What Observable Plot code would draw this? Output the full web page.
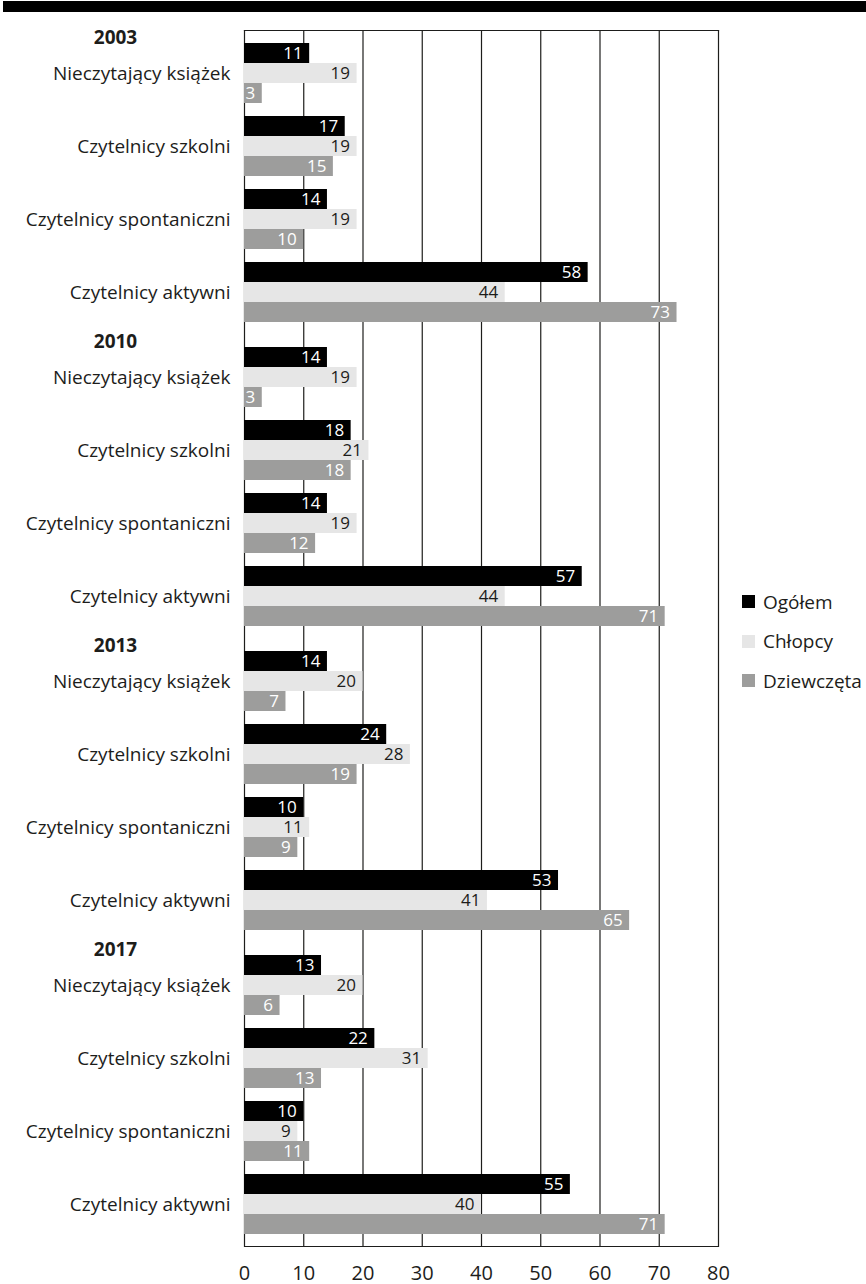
<!DOCTYPE html>
<html lang="pl">
<head>
<meta charset="utf-8">
<script src="https://cdn.jsdelivr.net/npm/d3@7"></script>
<script src="https://cdn.jsdelivr.net/npm/@observablehq/plot@0.6"></script>
<style>
  html, body { margin: 0; padding: 0; background: #fff; }
  body { width: 866px; height: 1284px; position: relative; overflow: hidden; font-family: "Open Sans", sans-serif; color: #1d1d1b; }
  #band { position: absolute; left: 3px; top: 1px; width: 863px; height: 11px; background: #000; }
  #chart { position: absolute; left: 0; top: 0; }
  #legend { position: absolute; left: 742px; top: 588px; font-size: 19px; }
  #legend .item { display: flex; align-items: center; height: 27px; margin-bottom: 12.5px; white-space: nowrap; }
  #legend .sw { width: 13px; height: 13px; margin-right: 8px; flex: none; }
</style>
</head>
<body>
<div id="band"></div>
<div id="chart"></div>
<div id="legend"></div>
<script>
// Survey years and reader categories (rows of the chart)
const years = ["2003", "2010", "2013", "2017"];
const categories = [
  "Nieczytający książek",
  "Czytelnicy szkolni",
  "Czytelnicy spontaniczni",
  "Czytelnicy aktywni"
];
const series = ["Ogółem", "Chłopcy", "Dziewczęta"];

// Percentages, year by year, in category order
const ogolem     = [11, 17, 14, 58,  14, 18, 14, 57,  14, 24, 10, 53,  13, 22, 10, 55];
const chlopcy    = [19, 19, 19, 44,  19, 21, 19, 44,  20, 28, 11, 41,  20, 31,  9, 40];
const dziewczeta = [ 3, 15, 10, 73,   3, 18, 12, 71,   7, 19,  9, 65,   6, 13, 11, 71];

const xTicks = [0, 10, 20, 30, 40, 50, 60, 70, 80];

const seriesValues = [ogolem, chlopcy, dziewczeta];
const fills = ["#000000", "#e6e6e6", "#9d9d9c"];
const textFills = ["#ffffff", "#1d1d1b", "#ffffff"];

// Long table: one row per bar
const rows = [];
years.forEach((year, i) => {
  categories.forEach((category, j) => {
    series.forEach((s, k) => {
      rows.push({year, category, series: s, k, value: seriesValues[k][i * categories.length + j]});
    });
  });
});

// Each category band holds three stacked 20px bars: Ogółem, Chłopcy, Dziewczęta
const barMarks = series.flatMap((s, k) => {
  const data = rows.filter(d => d.k === k);
  return [
    Plot.barX(data, {
      x: "value", y: "category", fy: "year",
      fill: fills[k],
      insetTop: k * 20, insetBottom: (2 - k) * 20
    }),
    Plot.text(data, {
      x: "value", y: "category", fy: "year",
      text: d => String(d.value),
      textAnchor: "end", dx: -7, dy: (k - 1) * 20,
      fill: textFills[k], fontSize: 17
    })
  ];
});

const chart = Plot.plot({
  width: 866,
  height: 1284,
  marginTop: 30,
  marginBottom: 38,
  marginLeft: 244,
  marginRight: 148,
  style: {fontFamily: "'Open Sans', sans-serif", color: "#1d1d1b", background: "transparent"},
  x: {domain: [0, 80]},
  y: {domain: categories, paddingInner: 0.182, paddingOuter: 0.163, axis: null},
  fy: {domain: years, padding: 0, axis: null},
  marks: [
    Plot.gridX(xTicks, {stroke: "#1d1d1b", strokeOpacity: 1, strokeWidth: 1.2}),
    Plot.frame({anchor: "top", facetAnchor: "top", stroke: "#1d1d1b", strokeWidth: 1.2}),
    Plot.frame({anchor: "bottom", facetAnchor: "bottom", stroke: "#1d1d1b", strokeWidth: 1.2}),
    ...barMarks,
    Plot.axisY({anchor: "left", tickSize: 0, tickPadding: 14, fontSize: 19, label: null}),
    Plot.text(years, {
      fy: d => d, y: () => categories[0],
      text: d => d,
      frameAnchor: "left", textAnchor: "middle",
      dx: -129, dy: -36,
      fontSize: 19, fontWeight: "bold", fill: "#1d1d1b"
    }),
    Plot.axisX({anchor: "bottom", ticks: xTicks, tickSize: 0, tickPadding: 19, fontSize: 20, label: null})
  ]
});
document.getElementById("chart").append(chart);

// Legend (vertical swatches to the right of the plot)
const legend = document.getElementById("legend");
series.forEach((s, k) => {
  const item = document.createElement("div");
  item.className = "item";
  const sw = document.createElement("span");
  sw.className = "sw";
  sw.style.background = fills[k];
  const label = document.createElement("span");
  label.textContent = s;
  item.append(sw, label);
  legend.append(item);
});
</script>
</body>
</html>
